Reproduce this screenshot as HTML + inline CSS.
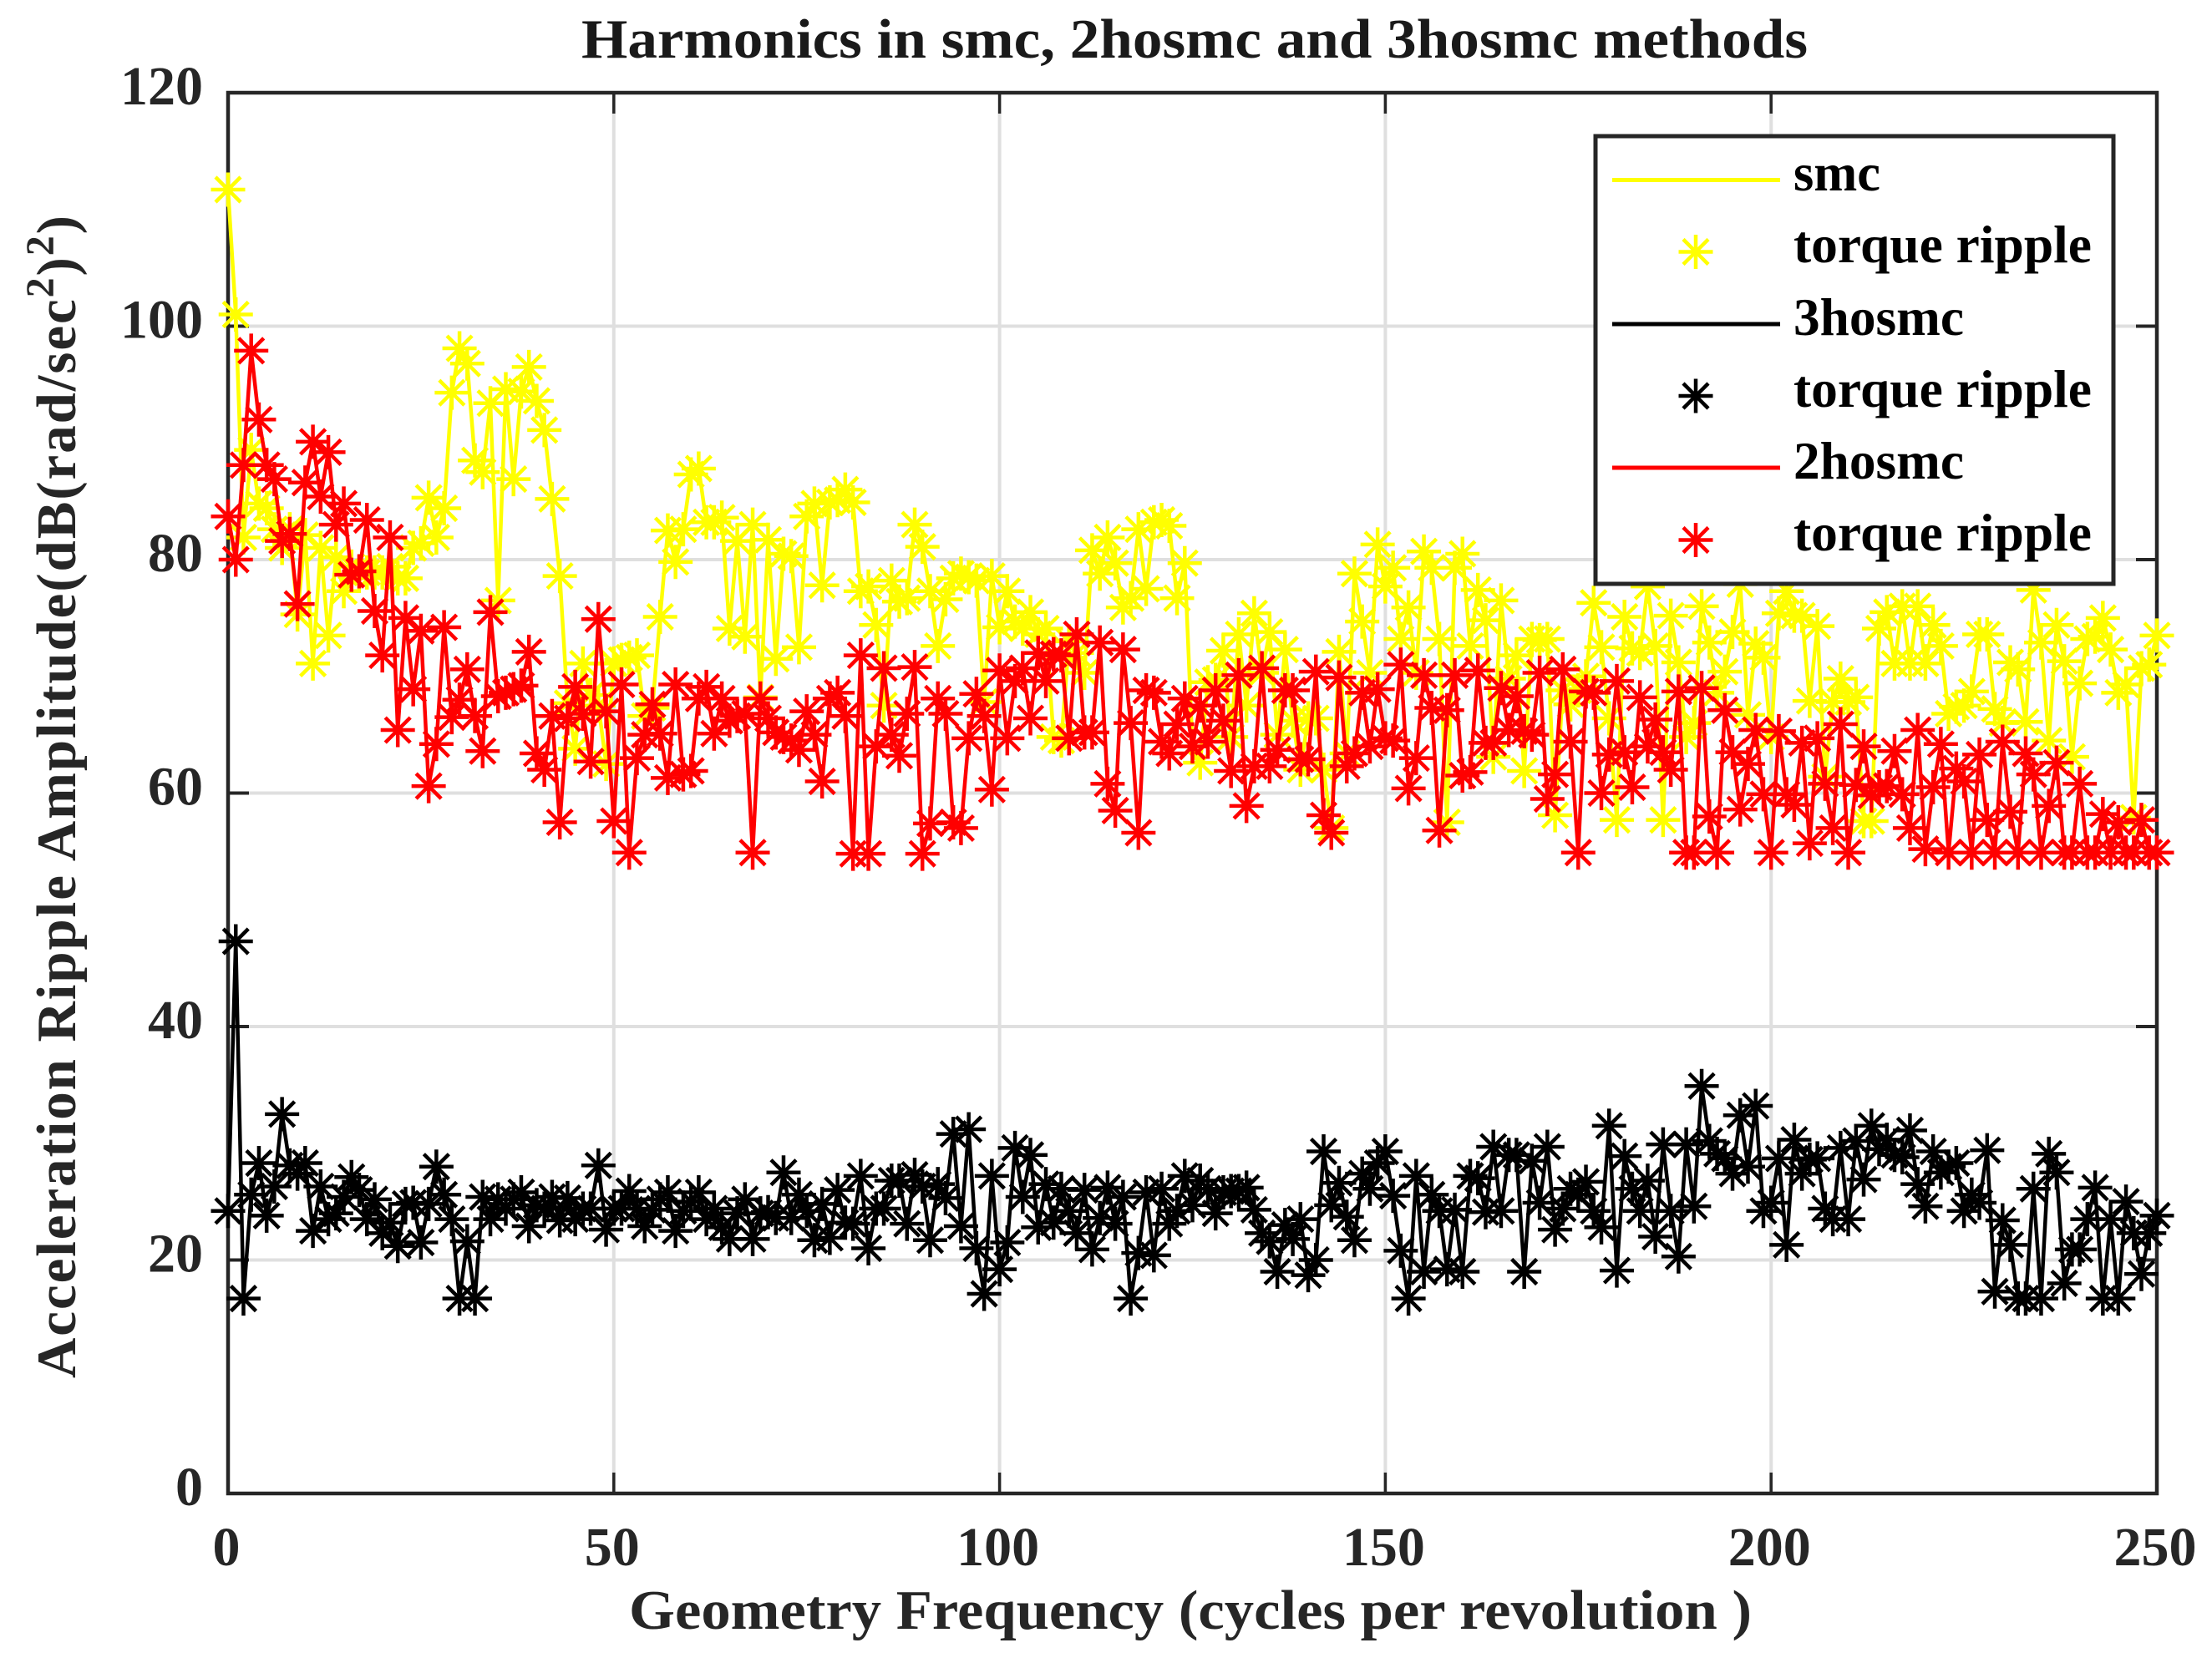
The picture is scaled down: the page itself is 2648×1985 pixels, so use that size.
<!DOCTYPE html>
<html lang="en">
<head>
<meta charset="utf-8">
<title>Harmonics in smc, 2hosmc and 3hosmc methods</title>
<style>
html,body{margin:0;padding:0;background:#fff;}
svg{display:block;}
text{font-family:"Liberation Serif",serif;font-weight:bold;}
</style>
</head>
<body>
<svg id="chart" xmlns="http://www.w3.org/2000/svg" width="2648" height="1985" viewBox="0 0 2648 1985">
  <rect x="0" y="0" width="2648" height="1985" fill="#fff"/>
  <g id="grid"></g>
  <g id="axes"></g>
  <g id="series"></g>
  <text x="696" y="69" font-size="67" fill="#1a1a1a" textLength="1468" lengthAdjust="spacingAndGlyphs">Harmonics in smc, 2hosmc and 3hosmc methods</text>
  <text x="753" y="1950" font-size="67" fill="#262626" textLength="1344" lengthAdjust="spacingAndGlyphs">Geometry Frequency (cycles per revolution )</text>
  <text transform="translate(90,1650) rotate(-90)" x="0" y="0" font-size="67" fill="#262626" textLength="1392" lengthAdjust="spacing">Acceleration Ripple Amplitude(dB(rad/sec<tspan dy="-26" font-size="48">2</tspan><tspan dy="26">)</tspan><tspan dy="-26" font-size="48">2</tspan><tspan dy="26">)</tspan></text>
  <g>
    <rect x="1910" y="163" width="620" height="536" fill="#fff" stroke="#262626" stroke-width="5"/>
    <line x1="1930" x2="2131" y1="215.5" y2="215.5" stroke="#ffff00" stroke-width="5"/>
    <text x="2147" y="228" font-size="64" fill="#000" textLength="104" lengthAdjust="spacingAndGlyphs">smc</text>
    <path d="M2030 281v41M2009.500 301.500h41M2015 286.500l30 30M2015 316.500l30-30" stroke="#ffff00" stroke-width="4.500" fill="none"/>
    <text x="2147" y="314" font-size="64" fill="#000" textLength="357" lengthAdjust="spacingAndGlyphs">torque ripple</text>
    <line x1="1930" x2="2131" y1="388" y2="388" stroke="#000" stroke-width="5"/>
    <text x="2147" y="401" font-size="64" fill="#000" textLength="204" lengthAdjust="spacingAndGlyphs">3hosmc</text>
    <path d="M2030 453.500v41M2009.500 474h41M2015 459l30 30M2015 489l30-30" stroke="#000" stroke-width="4.500" fill="none"/>
    <text x="2147" y="487" font-size="64" fill="#000" textLength="357" lengthAdjust="spacingAndGlyphs">torque ripple</text>
    <line x1="1930" x2="2131" y1="560" y2="560" stroke="#ff0000" stroke-width="5"/>
    <text x="2147" y="573" font-size="64" fill="#000" textLength="204" lengthAdjust="spacingAndGlyphs">2hosmc</text>
    <path d="M2030 626v41M2009.500 646.500h41M2015 631.500l30 30M2015 661.500l30-30" stroke="#ff0000" stroke-width="4.500" fill="none"/>
    <text x="2147" y="659" font-size="64" fill="#000" textLength="357" lengthAdjust="spacingAndGlyphs">torque ripple</text>
  </g>
</svg>
<script>
const xTickLabels = [0, 50, 100, 150, 200, 250];
const yTickLabels = [0, 20, 40, 60, 80, 100, 120];
const smcValues = [
111.7,101,81.9,89.4,84.8,84.4,82.6,81,82.6,75.3,
82.1,71.1,81,73.5,80.2,77.3,79.4,78.9,78.9,78.9,
78.9,79.4,78.4,78.4,81,81.4,85.3,81.9,84.4,94.3,
98.1,96.8,88.5,87.5,93.4,76.5,94.6,86.9,94.4,96.5,
93.6,91.1,85.2,78.6,67.7,63.8,71.1,68.4,67.5,62.5,
71.1,71.4,71.6,71.8,66.6,67.3,75.1,82.5,79.8,82.6,
87.3,87.8,83.2,83.2,83.6,74.1,81.6,73.4,83,68.2,
81.7,71.5,80.5,80.3,72.5,83.7,84.8,77.8,84.9,85.1,
86,84.9,77.3,77.7,74.4,67.5,78.2,76.4,76.7,83,
81.1,77.3,72.6,76.6,78.4,78.8,78.5,78.2,67.8,78.6,
74.2,77.3,74.7,74.1,75.5,73.6,74.1,64.8,64.5,73,
72,70.3,80.8,78.8,81.9,79.7,75.9,76.7,82.6,77.5,
83.2,83.4,82.9,76.7,79.7,64,62.6,69.5,69.7,72.2,
64.8,73.6,67.5,75.4,70.3,73.8,65,72.3,66.2,62,
66.4,66.4,62,57,72.1,63.4,78.8,74.7,70.3,81.3,
77.7,79.3,73.2,75.9,70.3,80.7,79.3,73.2,57.5,79.3,
80.5,72.6,77.4,74.8,63.1,76.5,69.8,71.8,61.9,73.2,
73.1,73.2,58.1,68.8,67.6,68.8,70,76.3,72.5,66.4,
57.7,75.1,72.4,72,77.7,72.6,57.7,75.2,71.2,64.8,
66,76,72.9,68.6,70.4,73.8,77.9,66.7,72.8,71.6,
64.8,75.4,77.3,75.2,75.2,67.9,74.3,61.4,67.8,69.8,
67.8,68.2,57.6,57.6,74.1,75.5,71.1,76,71.1,76,
71.1,74.4,72.6,66.8,67.4,67.5,68.7,73.6,73.6,67.2,
66,71.2,70.6,66.1,77.4,72.9,64.5,74.4,71.3,63.1,
69.4,73.2,73.4,75,72.3,68.6,69.3,57.9,70.7,71,
73.5];
const hosmc3Values = [
24.2,47.3,16.7,25.6,28.3,23.8,26.3,32.5,28.1,27.4,
28.3,22.5,26.3,23.5,24,25.4,27.1,26,23.5,25.2,
22.3,23.2,21.2,24.8,24.9,21.5,24.8,28,25.6,23.5,
16.7,21.6,16.7,25.4,23.5,25.2,24.4,25.2,25.8,22.9,
24.7,24.4,25.4,23.4,25.3,23.5,24.4,24.4,28.1,22.6,
24.4,24.4,25.9,24.4,22.9,24.3,25.2,25.8,22.5,24.2,
25,25.8,23.5,24.4,22.8,21.8,24,25.2,21.8,24,
24.1,23.6,27.5,23.6,25.6,24.2,21.7,24.8,21.9,26,
23.2,23.1,27.2,21,24.4,24.4,26.8,26.8,23.1,27.3,
26.3,21.7,26.5,25.3,30.8,22.9,31.2,21,17.1,27.2,
19.2,21.5,29.6,25.4,29,22.8,26.5,23.2,26.1,24.2,
22.3,26,20.9,23.6,26.2,23.1,25.4,16.7,20.6,25.8,
20.4,26.1,23.1,24.2,27.2,24.7,26.8,26.1,24,25.8,
25.9,25.9,26.2,24.3,22.3,21.6,19,23,21.8,23.5,
18.7,20,29.3,24.7,26.6,23.7,21.7,27.4,26.1,28.3,
29.3,25.5,20.8,16.7,27.2,19,25.6,24.2,19.2,24.3,
19,27.2,27,24.1,29.7,24.2,29,29,19,28.5,
24.9,29.7,22.6,24.4,26.1,25.6,26.7,24.2,22.8,31.5,
19.1,28.9,26.1,24.2,26.8,22,29.9,24.2,20.3,29.9,
24.6,34.9,30.2,29.1,28.7,27.4,32.4,28,33.2,24.2,
24.9,28.7,21.3,30.3,27.4,28.6,28.7,24.4,23.5,29.6,
23.5,30.2,26.9,31.5,29.5,30.3,29,28.8,31.1,26.5,
24.6,29.3,27.5,28,28.3,24.2,25.6,24.9,29.4,17.3,
23.4,21.3,16.7,16.7,26.1,16.7,29.1,27.5,18,20.9,
20.9,23.5,26.2,16.7,23.5,16.7,25,22.3,18.8,22.3,
23.8];
const hosmc2Values = [
83.7,80,88.1,97.9,92,88.1,86.9,81.6,82.2,76.2,
86.6,90.1,85.4,89.2,83,84.8,78.7,79,83.4,75.6,
71.8,81.9,65.4,75,68.9,73.9,60.6,64.2,74.2,66.5,
68,70.6,66.6,63.6,75.5,68.3,68.6,68.9,69.2,72.1,
63.4,62,66.6,57.5,66.4,69.1,66.8,62.7,74.9,67,
57.6,69.3,54.9,63,65,67.6,65.1,61.3,69.3,61.6,
61.9,68.1,69.1,65.1,68.1,66.2,66.6,66.8,54.9,68.1,
66.4,65.2,64.8,64.5,63.7,67,65,61,68.1,68.6,
66.6,54.8,71.8,54.8,64,70.7,65,63.2,66.8,70.8,
54.8,57.4,68.1,66.8,57.5,57,64.7,68.5,66.6,60.3,
70.5,64.7,69.6,70.7,66.4,72,69.6,71.9,71.8,64.7,
73.6,65.2,65.2,72.9,60.8,58.5,72.3,66,56.6,68.8,
68.6,64.4,63.4,65.9,68.1,64,67.5,64.4,68.8,66.2,
61.9,70.1,58.9,62.3,70.7,62.3,63.7,68.8,68.8,62.9,
62.9,70.4,58.1,56.6,69.9,62.3,63.4,68.6,64,68.9,
64.7,64.5,71,60.4,63,70.1,67.3,56.8,67.1,70.1,
61.5,61.8,70.5,64.3,64.3,69,65.4,68.3,65.3,65,
70.3,59.5,61.6,70.6,64.4,54.9,68.7,68.6,60,63.3,
69.6,63.5,60.5,68.2,64,66.3,63.5,62,68.7,54.9,
54.9,69,58,54.9,67.1,63.5,58.6,62.5,65.4,59.9,
54.9,65.3,59.9,59,64.3,55.7,64.7,60.8,57,65.9,
54.9,60.7,64,59.8,60.5,60.6,63.6,59.9,57,65.4,
55.2,60.5,64.2,54.9,62.1,61,54.9,63.3,57.7,54.9,
64.4,58.4,54.9,63.4,61.6,54.9,58.9,62.6,54.9,54.9,
60.8,54.9,54.9,58.2,54.9,57.5,54.9,54.9,57.7,54.9,
54.9];

const NS = 'http://www.w3.org/2000/svg';
const plot = { left: 273, right: 2582, top: 111, bottom: 1788 };
const xMax = 250;
const yMax = 120;
function xScale(v) { return plot.left + (v / xMax) * (plot.right - plot.left); }
function yScale(v) { return plot.bottom - (v / yMax) * (plot.bottom - plot.top); }
function make(tag, parent) {
  const el = document.createElementNS(NS, tag);
  parent.appendChild(el);
  return el;
}
function setAll(el, attrs) {
  Object.keys(attrs).forEach(function (k) { el.setAttribute(k, attrs[k]); });
}

const gridLayer = document.getElementById('grid');
const axesLayer = document.getElementById('axes');
const seriesLayer = document.getElementById('series');
const tickLength = 25;

xTickLabels.forEach(function (t) {
  const x = xScale(t);
  if (t !== 0 && t !== xMax) {
    const g = make('line', gridLayer);
    
    
    setAll(g, { x1: x, x2: x, y1: plot.top, y2: plot.bottom, stroke: '#dfdfdf', 'stroke-width': 4 });
  }
});
yTickLabels.forEach(function (t) {
  const y = yScale(t);
  if (t !== 0 && t !== yMax) {
    const g = make('line', gridLayer);
    
    
    setAll(g, { x1: plot.left, x2: plot.right, y1: y, y2: y, stroke: '#dfdfdf', 'stroke-width': 4 });
  }
});

const frame = make('rect', axesLayer);


setAll(frame, { x: plot.left, y: plot.top, width: plot.right - plot.left, height: plot.bottom - plot.top, fill: 'none', stroke: '#262626', 'stroke-width': 4.5 });

xTickLabels.forEach(function (t) {
  const x = xScale(t);
  const a = make('line', axesLayer);
  
  
  setAll(a, { x1: x, x2: x, y1: plot.bottom, y2: plot.bottom - tickLength, stroke: '#262626', 'stroke-width': 3.5 });
  const b = make('line', axesLayer);
  
  
  setAll(b, { x1: x, x2: x, y1: plot.top, y2: plot.top + tickLength, stroke: '#262626', 'stroke-width': 3.5 });
  const label = make('text', axesLayer);
  
  
  setAll(label, { x: x - 2, y: 1874, 'font-size': 66, fill: '#262626', 'text-anchor': 'middle' });
  label.textContent = String(t);
});
yTickLabels.forEach(function (t) {
  const y = yScale(t);
  const a = make('line', axesLayer);
  
  
  setAll(a, { x1: plot.left, x2: plot.left + tickLength, y1: y, y2: y, stroke: '#262626', 'stroke-width': 4 });
  const b = make('line', axesLayer);
  
  
  setAll(b, { x1: plot.right, x2: plot.right - tickLength, y1: y, y2: y, stroke: '#262626', 'stroke-width': 4 });
  const label = make('text', axesLayer);
  
  
  setAll(label, { x: 243, y: y + 14, 'font-size': 66, fill: '#262626', 'text-anchor': 'end' });
  label.textContent = String(t);
});

function starPath(cx, cy) {
  const r = 20.5;
  const d = 15;
  return 'M' + cx + ' ' + (cy - r) + 'V' + (cy + r) +
         'M' + (cx - r) + ' ' + cy + 'H' + (cx + r) +
         'M' + (cx - d) + ' ' + (cy - d) + 'L' + (cx + d) + ' ' + (cy + d) +
         'M' + (cx - d) + ' ' + (cy + d) + 'L' + (cx + d) + ' ' + (cy - d);
}
function drawSeries(values, color, key) {
  const group = make('g', seriesLayer);
  
  
  const line = make('polyline', group);
  
  
  const pts = values.map(function (v, i) { return xScale(i).toFixed(2) + ',' + yScale(v).toFixed(2); });
  setAll(line, { points: pts.join(' '), fill: 'none', stroke: color, 'stroke-width': 4.5, 'stroke-linejoin': 'miter', 'stroke-miterlimit': 3 });
  values.forEach(function (v, i) {
    const m = make('path', group);
    
    
    setAll(m, { d: starPath(xScale(i), yScale(v)), fill: 'none', stroke: color, 'stroke-width': 4.5 });
  });
}
drawSeries(smcValues, '#ffff00', 'smc');
drawSeries(hosmc3Values, '#000000', '3hosmc');
drawSeries(hosmc2Values, '#ff0000', '2hosmc');
</script>
</body>
</html>
